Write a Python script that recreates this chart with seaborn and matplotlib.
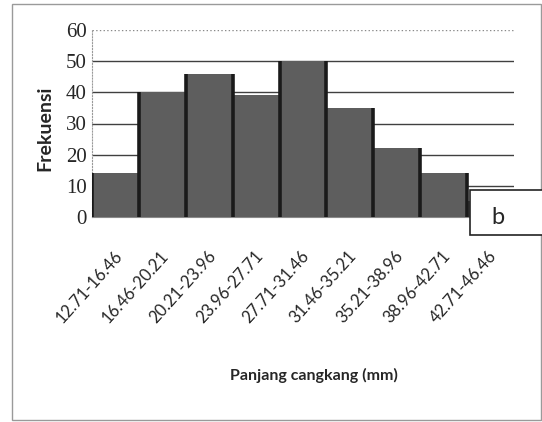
import matplotlib
matplotlib.use("Agg")
import matplotlib.pyplot as plt
import matplotlib.transforms as mtransforms
from matplotlib.patches import Rectangle
import seaborn as sns
import pandas as pd
import numpy as np

# 数据：各体长区间的频数
categories = ["12.71-16.46", "16.46-20.21", "20.21-23.96", "23.96-27.71",
              "27.71-31.46", "31.46-35.21", "35.21-38.96", "38.96-42.71",
              "42.71-46.46"]
frekuensi = [14, 40, 46, 39, 50, 35, 22, 14, 5]
y_ticks = [0, 10, 20, 30, 40, 50, 60]

df = pd.DataFrame({"kelas": categories, "frekuensi": frekuensi})

sns.set_style("white")
plt.rcParams['font.family'] = ['Lato', 'DejaVu Sans']

fig = plt.figure(figsize=(5.42, 4.22), dpi=100)
ax = fig.add_axes([92 / 542, 1 - 217 / 422, 422 / 542, 187 / 422])

sns.barplot(data=df, x="kelas", y="frekuensi", color="#5e5e5e",
            saturation=1, width=1.0, edgecolor="none", linewidth=0,
            ax=ax, zorder=3)

# 柱子之间的深色竖线（取相邻两柱的较高值）
h = np.array(frekuensi)
edge_h = np.maximum(np.r_[0, h], np.r_[h, 0])
ax.vlines(np.arange(len(h) + 1) - 0.5, 0, edge_h, color="#1a1a1a",
          linewidth=2.6, zorder=4)

ax.set_ylim(0, 60)
ax.set_xlim(-0.5, len(categories) - 0.5)
ax.set_yticks(y_ticks)
ax.set_yticklabels([str(v) for v in y_ticks], family="Liberation Serif",
                   fontsize=15)

# 网格线
ax.yaxis.grid(True, color="#404040", linewidth=1.0, zorder=0)
ax.set_axisbelow(True)
ax.get_ygridlines()[-1].set_linestyle(":")
ax.get_ygridlines()[-1].set_color("#8a8a8a")

# 边框
for s in ["top", "right"]:
    ax.spines[s].set_visible(False)
ax.spines["left"].set_color("#9a9a9a")
ax.spines["left"].set_linestyle(":")
ax.spines["bottom"].set_color("#8a8a8a")

ax.tick_params(axis="y", length=0, pad=4)
ax.tick_params(axis="x", which="major", length=0, pad=22)
ax.set_xticks(np.arange(-0.5, len(categories), 1), minor=True)
ax.tick_params(axis="x", which="minor", length=4, color="#8a8a8a",
               direction="out")

ax.set_xticks(range(len(categories)))
ax.set_xticklabels(categories, rotation=48, ha="right", va="top",
                   fontsize=12)
offset = mtransforms.ScaledTranslation(7 / 72, 0, fig.dpi_scale_trans)
for lab in ax.get_xticklabels():
    lab.set_transform(lab.get_transform() + offset)

ax.set_xlabel("Panjang cangkang (mm)", fontsize=11.5, fontweight="bold")
ax.xaxis.set_label_coords((314 - 92) / 422, (217 - 375) / 187)
ax.xaxis.label.set_va("center")
ax.set_ylabel("Frekuensi", fontsize=14, fontweight="bold")
ax.yaxis.set_label_coords((45 - 92) / 422, (217 - 128) / 187)
ax.yaxis.label.set_va("center")

# 外框
fig.add_artist(Rectangle((12 / 542, 2 / 422), 529 / 542, 416 / 422,
                         transform=fig.transFigure, fill=False,
                         edgecolor="#9a9a9a", linewidth=1))

# 图注 b
fig.add_artist(Rectangle((470 / 542, 1 - 235 / 422), 80 / 542, 45 / 422,
                         transform=fig.transFigure, facecolor="white",
                         edgecolor="#222222", linewidth=1.2, zorder=10))
fig.text(498 / 542, 1 - 218 / 422, "b", fontsize=17, ha="center",
         va="center", zorder=11)

fig.savefig("out.png", dpi=100)
